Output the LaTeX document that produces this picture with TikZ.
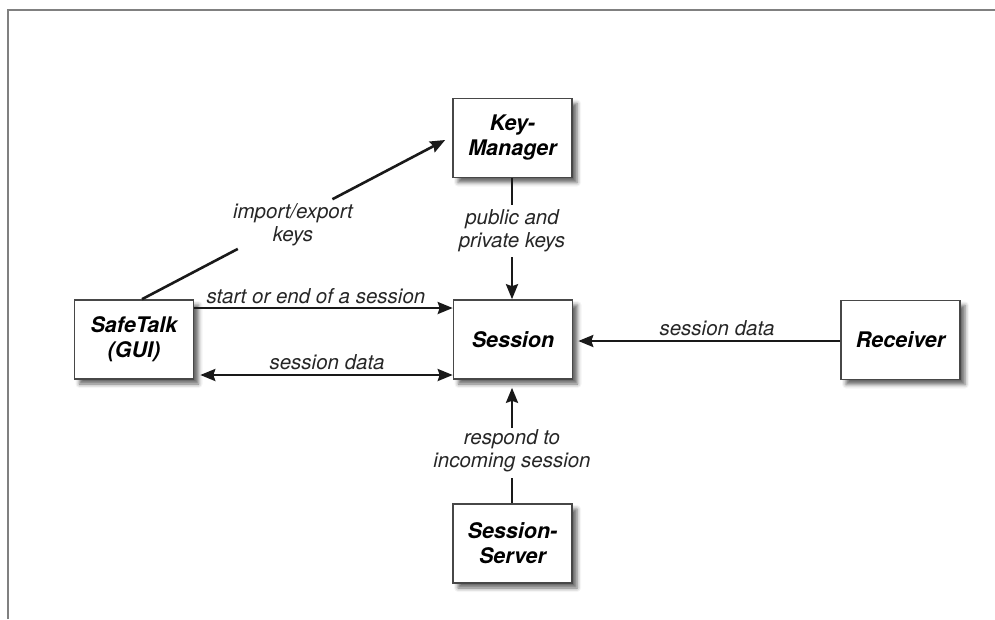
\documentclass[tikz,border=0pt]{standalone}
\usepackage{fontspec}
\setmainfont{TeX Gyre Heros}
\usetikzlibrary{arrows.meta,shadows.blur,calc}
\begin{document}
\begin{tikzpicture}[x=1pt,y=-1pt,
  box/.style={draw=black!72, line width=1.6pt, fill=white, rectangle,
    minimum width=119pt, minimum height=79pt, inner sep=0pt, align=center,
    font=\fontsize{21.5}{25}\selectfont\bfseries\itshape,
    blur shadow={shadow xshift=5pt, shadow yshift=-5pt, shadow blur radius=4pt, shadow opacity=60}},
  lbl/.style={inner sep=0pt, align=center, text=black!85,
    font=\fontsize{20.5}{23}\selectfont\itshape},
  conn/.style={line width=2.6pt, black!90},
  tip/.style={-{Stealth[length=15pt,width=12pt,inset=2pt]}},
  tips/.style={{Stealth[length=15pt,width=12pt,inset=2pt]}-{Stealth[length=15pt,width=12pt,inset=2pt]}}]
\useasboundingbox (0,0) rectangle (995,619);
\draw[black!50, line width=2pt] (8,619) -- (8,10) -- (995,10);

\node[box] (KM) at (512.5,138) {Key-\\Manager};
\node[box] (S)  at (513,339.5) {Session};
\node[box] (ST) at (134,339.5) {SafeTalk\\(GUI)};
\node[box] (R)  at (900.5,340) {Receiver};
\node[box] (SS) at (512.5,543.5) {Session-\\Server};

% import/export keys
\coordinate (ie0) at ([xshift=8pt]ST.north);
\coordinate (ie1) at ([xshift=-7pt,yshift=-2pt]KM.west);
\draw[conn] (ie0) -- ($(ie0)!0.316!(ie1)$);
\draw[conn,tip] ($(ie0)!0.628!(ie1)$) -- (ie1);
\node[lbl] (lie) at (293,225) {import/export\\keys};

% start or end of a session
\draw[conn,tip] ([yshift=31.5pt]ST.east) -- ([yshift=31.5pt]S.west);
\node[lbl,anchor=base] (lse) at (316,303) {start or end of a session};

% session data (double)
\draw[conn,tips] ([xshift=6pt,yshift=-35.5pt]ST.east) -- ([yshift=-35.5pt]S.west);
\node[lbl,anchor=base] (lsd1) at (327,369) {session data};

% receiver
\draw[conn,tip] ([yshift=-1pt]R.west) -- ([xshift=5pt,yshift=-1.5pt]S.east);
\node[lbl,anchor=base] (lsd2) at (717,335) {session data};

% key manager to session
\coordinate (k1) at (512,205);
\coordinate (k2) at (512,257);
\draw[conn] ([xshift=-0.5pt]KM.south) -- (k1);
\draw[conn,tip] (k2) -- ([xshift=-1pt]S.north);
\node[lbl] (lpk) at (512,231) {public and\\private keys};

% session server to session
\coordinate (s1) at (512,478);
\coordinate (s2) at (512,428);
\draw[conn] ([xshift=-0.5pt]SS.north) -- (s1);
\draw[conn,tip] (s2) -- ([xshift=-1pt,yshift=-8pt]S.south);
\node[lbl] (lrs) at (512,451) {respond to\\incoming session};
\end{tikzpicture}
\end{document}
